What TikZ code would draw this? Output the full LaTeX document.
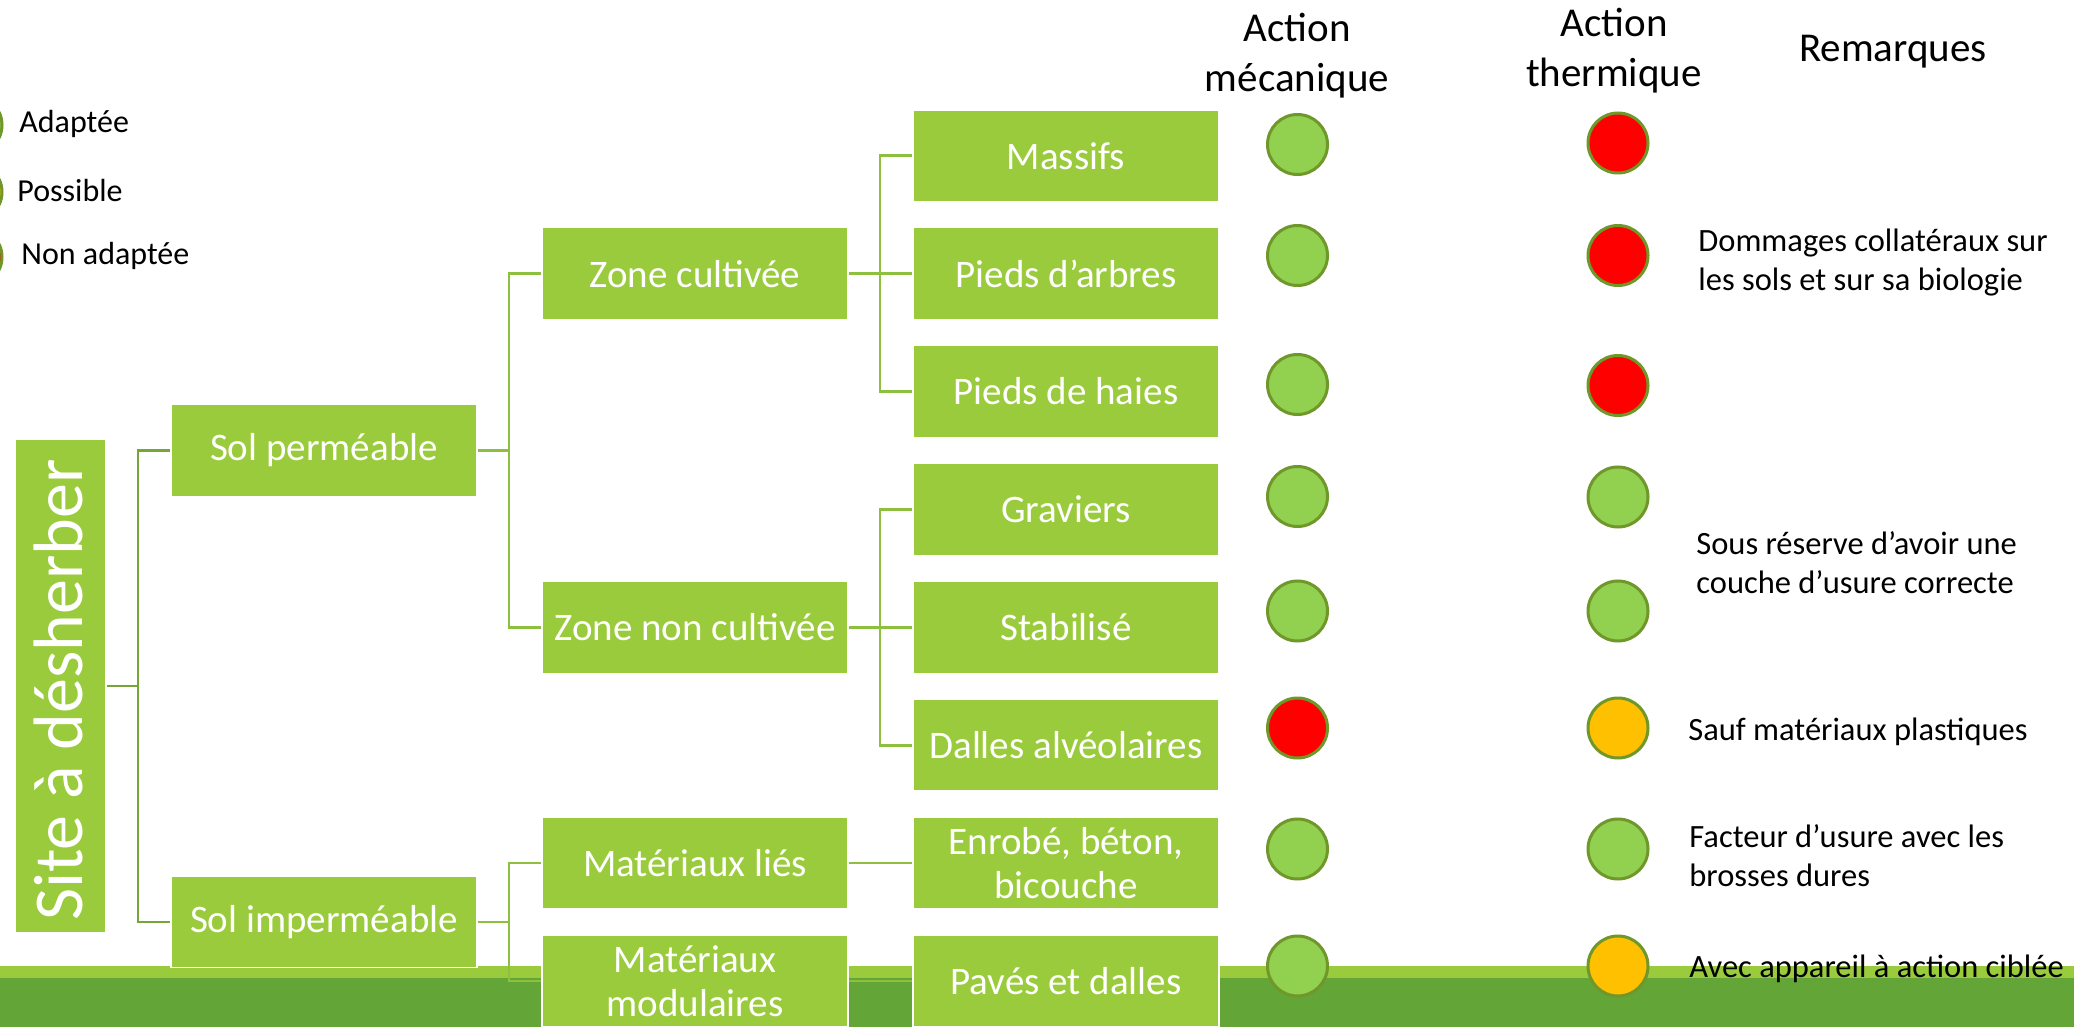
\documentclass[tikz,border=0pt]{standalone}
\usepackage{fontspec}
\setmainfont{Carlito}
\definecolor{boxgreen}{RGB}{154,203,60}
\definecolor{banddark}{RGB}{99,165,55}
\definecolor{bandlight}{RGB}{154,203,60}
\definecolor{connA}{RGB}{118,166,56}
\definecolor{connB}{RGB}{140,192,62}
\definecolor{dotgreen}{RGB}{146,208,80}
\definecolor{dotred}{RGB}{255,0,0}
\definecolor{dotorange}{RGB}{255,192,0}
\definecolor{dotline}{RGB}{111,151,42}
\begin{document}
\begin{tikzpicture}[x=0.5pt,y=-0.5pt,
  lvl/.style={rectangle, fill=boxgreen, draw=white, line width=0.6pt, minimum width=153pt, minimum height=45.75pt, inner sep=2pt, text=white, font=\fontsize{19.5}{22}\selectfont, align=center},
  sitebox/.style={rectangle, fill=boxgreen, draw=white, line width=0.6pt, minimum width=45.5pt, minimum height=247pt, inner sep=0pt},
  linkA/.style={draw=connA, line width=1.3pt},
  linkB/.style={draw=connB, line width=1.3pt},
  dot/.style={circle, minimum size=30pt, inner sep=0pt, draw=dotline, line width=1.5pt},
  head/.style={font=\fontsize{20.5}{25}\selectfont, anchor=base, inner sep=0pt},
  remark/.style={font=\fontsize{16.25}{19.5}\selectfont, anchor=base west, inner sep=0pt},
  legtext/.style={font=\fontsize{16}{19}\selectfont, anchor=base west, inner sep=0pt}
]
\useasboundingbox (0,0) rectangle (2074,1027);
\fill[white] (0,0) rectangle (2074,1027);
% bottom band
\fill[bandlight] (0,966) rectangle (2074,978);
\fill[banddark] (0,978) rectangle (2074,1027);

% junction coordinates
\coordinate (j0) at (138,686);
\coordinate (j1) at (509,450.5);
\coordinate (j2) at (509,922);
\coordinate (j3) at (880,273.65);
\coordinate (j4) at (880,627.35);

% boxes (positions)
\path
  (60.5,686) node[sitebox] (site) {}
  (324,450.5) node[lvl] (solp) {Sol perméable}
  (324,922) node[lvl] (soli) {Sol imperméable}
  (695,273.65) node[lvl] (zc) {Zone cultivée}
  (695,627.35) node[lvl] (znc) {Zone non cultivée}
  (695,863.15) node[lvl] (ml) {Matériaux liés}
  (695,981.05) node[lvl] (mm) {Matériaux\\modulaires}
  (1066,155.75) node[lvl] (massifs) {Massifs}
  (1066,273.65) node[lvl] (arbres) {Pieds d’arbres}
  (1066,391.55) node[lvl] (haies) {Pieds de haies}
  (1066,509.45) node[lvl] (grav) {Graviers}
  (1066,627.35) node[lvl] (stab) {Stabilisé}
  (1066,745.25) node[lvl] (dalles) {Dalles alvéolaires}
  (1066,863.15) node[lvl] (enrobe) {Enrobé, béton,\\bicouche}
  (1066,981.05) node[lvl] (paves) {Pavés et dalles};

% connectors (behind boxes)
\begin{scope}[on background layer/.try]
\end{scope}
\draw[linkA] (site.east) -- (j0);
\draw[linkA] (j0) |- (solp.west);
\draw[linkA] (j0) |- (soli.west);
\draw[linkB] (solp.east) -- (j1);
\draw[linkB] (j1) |- (zc.west);
\draw[linkB] (j1) |- (znc.west);
\draw[linkB] (soli.east) -- (j2);
\draw[linkB] (j2) |- (ml.west);
\draw[linkB] (j2) |- (mm.west);
\draw[linkB] (zc.east) -- (j3);
\draw[linkB] (j3) |- (massifs.west);
\draw[linkB] (j3) -- (arbres.west);
\draw[linkB] (j3) |- (haies.west);
\draw[linkB] (znc.east) -- (j4);
\draw[linkB] (j4) |- (grav.west);
\draw[linkB] (j4) -- (stab.west);
\draw[linkB] (j4) |- (dalles.west);
\draw[linkB] (ml.east) -- (enrobe.west);
\draw[linkB] (mm.east) -- (paves.west);

% site text
\node[rotate=90, anchor=base, inner sep=0pt, text=white, font=\fontsize{35}{40}\selectfont] (sitetext) at (82,690) {Site à désherber};

% legend
\node[dot, fill=dotgreen] (lg1) at (-28,125) {};
\node[dot, fill=dotorange] (lg2) at (-28,192) {};
\node[dot, fill=dotred] (lg3) at (-28,257) {};
\node[legtext] (lt1) at (19,133) {Adaptée};
\node[legtext] (lt2) at (17,202) {Possible};
\node[legtext] (lt3) at (21,265) {Non adaptée};

% headers
\node[head] (hmec) at (1297,42) {\begin{tabular}[t]{@{}c@{}}Action\\mécanique\end{tabular}};
\node[head] (hthe) at (1614,37) {\begin{tabular}[t]{@{}c@{}}Action\\thermique\end{tabular}};
\node[head] (hrem) at (1893,62) {Remarques};

% mechanical action dots
\node[dot, fill=dotgreen] (m1) at (1297.5,144.5) {};
\node[dot, fill=dotgreen] (m2) at (1297.5,255.5) {};
\node[dot, fill=dotgreen] (m3) at (1297.5,384.5) {};
\node[dot, fill=dotgreen] (m4) at (1297.5,496.5) {};
\node[dot, fill=dotgreen] (m5) at (1297.5,611) {};
\node[dot, fill=dotred] (m6) at (1297.5,728) {};
\node[dot, fill=dotgreen] (m7) at (1297.5,849) {};
\node[dot, fill=dotgreen] (m8) at (1297.5,966) {};

% thermal action dots
\node[dot, fill=dotred] (t1) at (1618,143) {};
\node[dot, fill=dotred] (t2) at (1618,255.5) {};
\node[dot, fill=dotred] (t3) at (1618,385.5) {};
\node[dot, fill=dotgreen] (t4) at (1618,497) {};
\node[dot, fill=dotgreen] (t5) at (1618,611) {};
\node[dot, fill=dotorange] (t6) at (1618,728) {};
\node[dot, fill=dotgreen] (t7) at (1618,849) {};
\node[dot, fill=dotorange] (t8) at (1618,966) {};

% remarks
\node[remark] (r1) at (1698,252) {\begin{tabular}[t]{@{}l@{}}Dommages collatéraux sur\\les sols et sur sa biologie\end{tabular}};
\node[remark] (r2) at (1696,554) {\begin{tabular}[t]{@{}l@{}}Sous réserve d’avoir une\\couche d’usure correcte\end{tabular}};
\node[remark] (r3) at (1688,740) {Sauf matériaux plastiques};
\node[remark] (r4) at (1689,847) {\begin{tabular}[t]{@{}l@{}}Facteur d’usure avec les\\brosses dures\end{tabular}};
\node[remark] (r5) at (1689,977) {Avec appareil à action ciblée};
\end{tikzpicture}
\end{document}
